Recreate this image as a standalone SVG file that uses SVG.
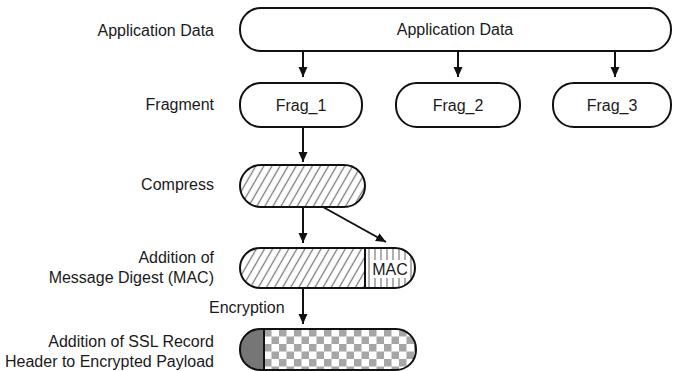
<svg xmlns="http://www.w3.org/2000/svg" width="674" height="371" viewBox="0 0 674 371">
<style>
text{font-family:"Liberation Sans",Arial,Helvetica,sans-serif;font-size:16px;fill:#1a1a1a}
.lbl{text-anchor:end}
.ctr{text-anchor:middle}
.box{fill:#fff;stroke:#111;stroke-width:2}
.outline{fill:none;stroke:#111;stroke-width:2}
.conn{stroke:#111;stroke-width:2;fill:none;marker-end:url(#arr)}
</style>
<defs>
<marker id="arr" markerUnits="userSpaceOnUse" markerWidth="10" markerHeight="10" refX="10" refY="4.5" orient="auto">
<path d="M0,0 L10,4.5 L0,9 z" fill="#111"/>
</marker>
<pattern id="hatch" patternUnits="userSpaceOnUse" width="7" height="7" patternTransform="rotate(30)">
<line x1="3.5" y1="0" x2="3.5" y2="7" stroke="#7a7a7a" stroke-width="1.3"/>
</pattern>
<pattern id="vlines" patternUnits="userSpaceOnUse" x="366" width="6" height="6">
<line x1="3" y1="0" x2="3" y2="6" stroke="#7a7a7a" stroke-width="1.2"/>
</pattern>
<pattern id="checker" patternUnits="userSpaceOnUse" x="264" y="329" width="15" height="15">
<rect width="15" height="15" fill="#fff"/>
<rect x="0" y="0" width="7.5" height="7.5" fill="#a6a6a6"/>
<rect x="7.5" y="7.5" width="7.5" height="7.5" fill="#a6a6a6"/>
</pattern>
<clipPath id="clipMac"><rect x="240" y="248" width="175" height="40" rx="20"/></clipPath>
<clipPath id="clipEnc"><rect x="240" y="329" width="176" height="41" rx="20"/></clipPath>
</defs>

<g id="labels">
<text class="lbl" x="214" y="36">Application Data</text>
<text class="lbl" x="214" y="110">Fragment</text>
<text class="lbl" x="214" y="190">Compress</text>
<text class="lbl" x="214" y="263">Addition of</text>
<text class="lbl" x="214" y="283">Message Digest (MAC)</text>
<text class="lbl" x="214" y="347">Addition of SSL Record</text>
<text class="lbl" x="214" y="367">Header to Encrypted Payload</text>
</g>

<g id="appdata">
<rect class="box" x="240" y="8" width="431" height="43" rx="21"/>
<text class="ctr" x="455" y="35">Application Data</text>
</g>

<g id="frag1">
<rect class="box" x="240" y="83" width="122" height="44" rx="21"/>
<text class="ctr" x="301" y="111">Frag_1</text>
</g>
<g id="frag2">
<rect class="box" x="396" y="83" width="124" height="44" rx="21"/>
<text class="ctr" x="458" y="111">Frag_2</text>
</g>
<g id="frag3">
<rect class="box" x="553" y="83" width="118" height="44" rx="21"/>
<text class="ctr" x="612" y="111">Frag_3</text>
</g>

<g id="compress">
<rect x="240" y="165" width="125" height="42" rx="21" fill="url(#hatch)" stroke="#111" stroke-width="2"/>
</g>

<g id="mac">
<g clip-path="url(#clipMac)">
<rect x="240" y="248" width="125" height="40" fill="url(#hatch)"/>
<rect x="365" y="248" width="50" height="40" fill="url(#vlines)"/>
</g>
<rect x="370" y="260" width="40" height="18" fill="#fff"/>
<rect class="outline" x="240" y="248" width="175" height="40" rx="20"/>
<line x1="365" y1="248" x2="365" y2="288" stroke="#111" stroke-width="2"/>
<text class="ctr" x="390" y="275">MAC</text>
</g>

<g id="encrypted">
<g clip-path="url(#clipEnc)">
<rect x="240" y="329" width="24" height="41" fill="#767676"/>
<rect x="264" y="329" width="152" height="41" fill="url(#checker)"/>
</g>
<rect class="outline" x="240" y="329" width="176" height="41" rx="20"/>
<line x1="264" y1="329" x2="264" y2="370" stroke="#111" stroke-width="2"/>
</g>

<g id="connectors">
<line class="conn" x1="303" y1="52" x2="303" y2="77"/>
<line class="conn" x1="458" y1="52" x2="458" y2="77"/>
<line class="conn" x1="615" y1="52" x2="615" y2="77"/>
<line class="conn" x1="303" y1="127" x2="303" y2="162"/>
<line class="conn" x1="303" y1="207" x2="303" y2="243"/>
<line class="conn" x1="323" y1="207" x2="386" y2="242"/>
<line class="conn" x1="303" y1="288" x2="303" y2="324"/>
<text x="209" y="313">Encryption</text>
</g>
</svg>
